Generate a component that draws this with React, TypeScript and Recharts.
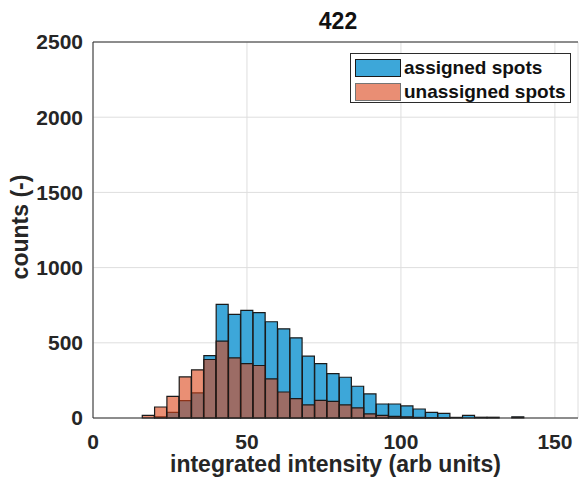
import React from 'react';
import { ComposedChart, Bar, XAxis, YAxis, CartesianGrid, ReferenceLine, Legend } from 'recharts';

const binCenters = [18, 22, 26, 30, 34, 38, 42, 46, 50, 54, 58, 62, 66, 70, 74, 78, 82, 86, 90, 94, 98, 102, 106, 110, 114, 118, 122, 126, 130, 134, 138];
const assignedCounts = [0, 8, 37, 115, 167, 415, 755, 689, 715, 700, 640, 593, 533, 411, 362, 295, 271, 211, 160, 93, 93, 80, 60, 38, 31, 4, 18, 5, 5, 0, 8];
const unassignedCounts = [18, 73, 144, 273, 320, 389, 511, 400, 362, 349, 260, 173, 129, 87, 117, 111, 87, 67, 27, 17, 11, 8, 4, 2, 1, 0, 0, 0, 0, 0, 0];
const xTicks = [0, 50, 100, 150];
const yTicks = [0, 500, 1000, 1500, 2000, 2500];
const titleText = '422';
const xLabel = 'integrated intensity (arb units)';
const yLabel = 'counts (-)';

const data = binCenters.map((c, i) => ({ x: c, assigned: assignedCounts[i], unassigned: unassignedCounts[i] }));

const FONT = '"Liberation Sans", Arial, Helvetica, sans-serif';
const BLUE = '#3DA7D9';
const ORANGE = '#DC4418';
const ORANGE_OP = 0.6;
const EDGE = '#1a1a1a';
const AXIS = '#2b2b2b';

const tickStyle = { fontFamily: FONT, fontSize: 21, fontWeight: 700, fill: '#262626' };

const YLabelContent = (props: any) => {
  const vb = props.viewBox || { x: 0, y: 42, width: 93, height: 376 };
  const cx = 20;
  const cy = vb.y + vb.height / 2 - 3;
  return (
    <text x={cx} y={cy} transform={`rotate(-90 ${cx} ${cy})`} textAnchor="middle" dominantBaseline="central"
      style={{ fontFamily: FONT, fontSize: 23, fontWeight: 700, fill: '#262626' }}>{yLabel}</text>
  );
};

const LegendContent = (props: any) => {
  const payload = props.payload || [];
  return (
    <div style={{ width: 219, height: 48, border: `1px solid ${AXIS}`, background: '#fff', boxSizing: 'content-box', position: 'relative' }}>
      {payload.map((p: any, i: number) => (
        <div key={i} style={{ position: 'absolute', left: 4, top: 5 + i * 24, height: 18, display: 'flex', alignItems: 'center' }}>
          <div style={{ width: 44, height: 16, border: `1px solid ${EDGE}`, background: p.dataKey === 'unassigned' ? ORANGE : BLUE, opacity: p.dataKey === 'unassigned' ? ORANGE_OP : 1 }} />
          <span style={{ marginLeft: 3, fontFamily: FONT, fontSize: 19, fontWeight: 700, color: '#111', lineHeight: '18px' }}>{p.value}</span>
        </div>
      ))}
    </div>
  );
};

export default function App() {
  return (
    <div style={{ position: 'absolute', left: 0, top: 0, width: 579, height: 484, background: '#fff' }}>
      <div style={{ position: 'absolute', left: 338, top: 10, transform: 'translateX(-50%)', fontFamily: FONT, fontSize: 23, fontWeight: 700, lineHeight: '23px', color: '#111' }}>{titleText}</div>
      <ComposedChart width={579} height={484} data={data} margin={{ top: 42, right: 1, bottom: 0, left: 0 }} barCategoryGap={0} barGap={0}>
        <CartesianGrid xAxisId="a" stroke="#dedede" strokeWidth={1} />
        <XAxis xAxisId="a" dataKey="x" type="number" domain={[0, 157.5]} allowDataOverflow ticks={xTicks} height={66}
          tickSize={0} tickMargin={16} tick={tickStyle} stroke={AXIS} interval={0}
          label={{ value: xLabel, position: 'insideBottom', offset: 12, style: { fontFamily: FONT, fontSize: 23, fontWeight: 700, fill: '#262626' } }} />
        <XAxis xAxisId="b" dataKey="x" type="number" domain={[0, 157.5]} allowDataOverflow hide />
        <YAxis type="number" domain={[0, 2500]} ticks={yTicks} width={93} tickSize={0} tickMargin={10} tick={tickStyle} stroke={AXIS} interval={0}
          label={{ content: YLabelContent, position: 'insideLeft' }} />
        <ReferenceLine xAxisId="a" y={2500} stroke={AXIS} strokeWidth={1} ifOverflow="extendDomain" />
        <Bar xAxisId="a" dataKey="assigned" name="assigned spots" fill={BLUE} stroke={EDGE} strokeWidth={1.2} isAnimationActive={false} />
        <Bar xAxisId="b" dataKey="unassigned" name="unassigned spots" fill={ORANGE} fillOpacity={ORANGE_OP} stroke={EDGE} strokeWidth={1.2} isAnimationActive={false} />
        <Legend layout="vertical" align="center" verticalAlign="middle" content={LegendContent}
          wrapperStyle={{ position: 'absolute', left: 350, top: 53, width: 221, height: 50 }} />
      </ComposedChart>
    </div>
  );
}
